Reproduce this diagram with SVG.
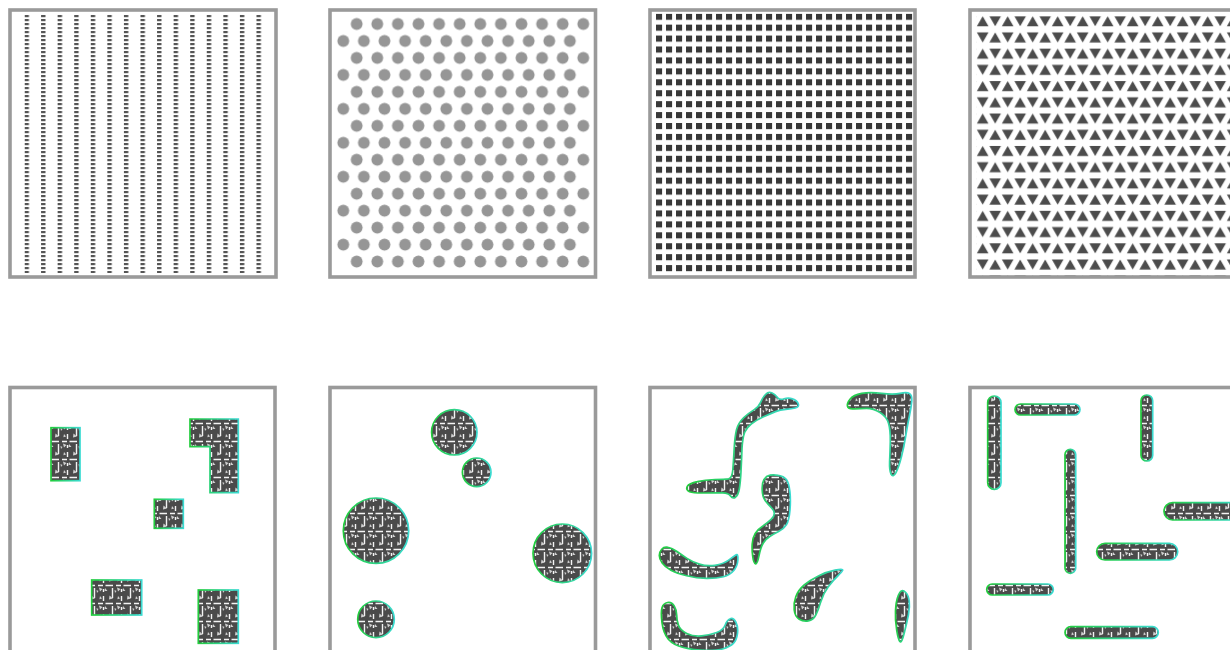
<svg xmlns="http://www.w3.org/2000/svg" width="1230" height="650" viewBox="0 0 1230 650">
<style>
.frame{fill:#fff;stroke:#9a9a9a;stroke-width:3.6}
.blob{fill:url(#tex);stroke:url(#edge);stroke-width:1.7}
</style>
<defs>
<pattern id="dots" patternUnits="userSpaceOnUse" x="24.5" y="15" width="16.57" height="4"><rect width="4.4" height="2.2" fill="#555"/></pattern>
<pattern id="circ" patternUnits="userSpaceOnUse" x="346.4" y="15.5" width="20.6" height="33.94"><circle cx="10.3" cy="8.5" r="5.9" fill="#969696"/></pattern>
<pattern id="circ2" patternUnits="userSpaceOnUse" x="333" y="32.5" width="20.6" height="33.94"><circle cx="10.3" cy="8.5" r="5.9" fill="#969696"/></pattern>
<pattern id="sq" patternUnits="userSpaceOnUse" x="656" y="13.7" width="10" height="10.93"><rect width="6.1" height="6.1" fill="#383838"/></pattern>
<pattern id="tri" patternUnits="userSpaceOnUse" x="976.2" y="16.2" width="25" height="32.44"><path d="M6.5 0L12.3 10H0.7Z M13.2 0H24.8L19 10Z M0.7 16.3H12.3L6.5 26.3Z M19 16.3L24.8 26.3H13.2Z" fill="#4c4c4c"/></pattern>
<pattern id="tex" patternUnits="userSpaceOnUse" width="18" height="18"><rect width="18" height="18" fill="#4a4a4a"/><path d="M0 9.5H5M8 9.5H13M15.5 9.5H18M4.5 0V4M4.5 12V18M13.5 2V7M13.5 13V16" stroke="#f4f4f4" stroke-width="1.4"/><path d="M1.5 1.5l3.5 3-4 1z M9 11.5l3.5 1.5-2.5 2.5z M10 2l2 2.5-2.6 0.8z M15 12l2.5 3-3 0z M6.5 14l2 1-1.5 2z" fill="#d0d0d0"/></pattern>
<linearGradient id="edge" x1="0" y1="0" x2="1" y2="0"><stop offset="0" stop-color="#22cc3c"/><stop offset="1" stop-color="#3adbd2"/></linearGradient>
</defs>

<g id="panel-lines">
<rect class="frame" x="10" y="10" width="266" height="267"/>
<rect x="24.5" y="15" width="238" height="258" fill="url(#dots)"/>
</g>
<g id="panel-circles">
<rect class="frame" x="330" y="10" width="265.5" height="267"/>
<rect x="346.4" y="15.5" width="247.2" height="271.5" fill="url(#circ)"/>
<rect x="333" y="32.5" width="247.2" height="237.6" fill="url(#circ2)"/>
</g>
<g id="panel-squares">
<rect class="frame" x="650" y="10" width="265" height="267"/>
<rect x="656" y="13.7" width="260" height="262.3" fill="url(#sq)"/>
</g>
<g id="panel-triangles">
<rect class="frame" x="970" y="10" width="265.5" height="267"/>
<rect x="976.2" y="16.2" width="256" height="259.5" fill="url(#tri)"/>
</g>

<g id="panel-rects">
<rect class="frame" x="10" y="387.5" width="265" height="267"/>
<rect class="blob" x="51" y="427.7" width="29" height="53"/>
<path class="blob" d="M190,419 H238.3 V492.7 H210 V446.7 H190 Z"/>
<rect class="blob" x="154.3" y="499.3" width="29" height="29"/>
<rect class="blob" x="91.7" y="580" width="50" height="35"/>
<rect class="blob" x="198.3" y="590" width="40" height="53.3"/>
</g>
<g id="panel-discs">
<rect class="frame" x="330" y="387.5" width="265.5" height="267"/>
<circle class="blob" cx="454.3" cy="432.3" r="22.7"/>
<circle class="blob" cx="476.7" cy="472.3" r="14.3"/>
<circle class="blob" cx="376" cy="530.7" r="32.7"/>
<circle class="blob" cx="562.3" cy="553.3" r="29.3"/>
<circle class="blob" cx="376" cy="619.3" r="18.3"/>
</g>
<g id="panel-blobs">
<rect class="frame" x="650" y="387.5" width="265" height="267"/>
<path class="blob" d="M765.5,394.5 Q768.3,391.5 771.7,392.8 Q775,394 777.5,397.6 Q780,400.5 784.2,398.8 Q788.3,397.2 792.5,398.9 Q797.2,400.6 798.3,403.9 Q799.3,407 795.3,408 Q791.7,409 785.9,409.4 Q780,409.8 775.5,411.6 Q771,413.5 763.5,416.8 Q756.5,420 751.5,423.8 Q746.7,427.5 744.6,432.5 Q742.6,438 742,448.5 Q741.6,460 741,471.5 Q740.4,483 739.3,489 Q738.2,495 735.5,497.2 Q732.7,499 730.5,496 Q728.4,493 722.9,492.9 Q716.7,492.8 705,493 Q693.3,493.2 689.5,491.7 Q685.5,489.8 687.3,486.4 Q689,483.3 697.3,481.6 Q705,479.8 715,479.5 Q724.6,479.3 728.6,478.8 Q732,478.2 732.8,470 Q733.6,460 734.2,448.5 Q734.8,437 736.5,429.8 Q738.3,423 743.8,417.7 Q749.3,412.6 754.2,409.6 Q758.8,406.8 760.6,402.4 Q762.5,397.6 765.5,394.5 Z"/>
<path class="blob" d="M850,399.2 Q853.3,395 861.7,393.4 Q870,391.7 881.7,393.4 Q893.3,395 900,393.4 Q906.7,391.7 909.4,393.4 Q912.2,395 911.8,401 Q911.3,407 909.6,415 Q907.8,423.3 905.9,435 Q904,446.7 901.5,456.5 Q899,466.5 896,472.5 Q893,478 891,474 Q889.3,470 889.6,461.7 Q890,453.3 890.3,441.7 Q890.5,430 888.6,423.4 Q886.7,416.7 880,412.5 Q873.3,408.3 866.7,408.3 Q860,408.3 854.2,408.8 Q848.3,409.3 847.5,406.3 Q846.7,403.3 850,399.2 Z"/>
<path class="blob" d="M778.3,475.4 Q783.8,476.3 786.4,479.6 Q789,483.3 789.9,491.7 Q790.8,500 790,510 Q789.1,520.5 786.4,524.8 Q783.7,529 778.6,531.6 Q773.8,534 769.8,536.5 Q765.7,539 763.3,543 Q760.8,547.2 759.1,555.2 Q757.4,564 755.6,563.8 Q753.6,563.5 752.7,556.2 Q751.8,550 752.2,544 Q752.6,537.8 755.2,533.5 Q757.8,529.3 762.9,526 Q767.8,522.6 771.1,519.4 Q774.3,516.3 774.3,513.4 Q774.3,510.5 771.1,507.3 Q767.7,504 765.1,500.5 Q762.5,497 762.2,490 Q761.9,483 764,479.5 Q766.3,476 770,475.2 Q773.3,474.4 778.3,475.4 Z"/>
<path class="blob" d="M661.7,549.3 Q664,546.5 668,547.3 Q672,548 677,551.5 Q682,555 687,558.4 Q692,561.7 699.4,564.1 Q706.7,566.5 715,565.3 Q723.3,564 728.3,560.4 Q733.3,556.7 735.8,555 Q738.3,553.3 737.9,559.7 Q737.5,566 733.8,570.5 Q730,575 723.4,576.8 Q716.7,578.5 706.7,578.4 Q696.7,578.3 686.7,575.8 Q676.7,573.3 670.9,570.2 Q665,567 662.2,563 Q659.3,559 659.3,555.5 Q659.3,552 661.7,549.3 Z"/>
<path class="blob" d="M662,607.7 Q663.3,603.3 667.5,602.5 Q671.7,601.7 674.2,605.9 Q676.7,610 676.7,615 Q676.7,620 678.4,625 Q680,630 686.7,633.4 Q693.3,636.7 701.7,635.9 Q710,635 716.7,632.5 Q723.3,630 725.2,625 Q727,620 730.2,618.7 Q733.3,617.3 735.8,622 Q738.3,626.7 737.5,633.4 Q736.7,640 733.4,643.4 Q730,646.7 723.4,648.7 Q716.7,650.7 705,650.4 Q693.3,650 683.3,647.5 Q673.3,645 668.3,639.2 Q663.3,633.3 662,622.7 Q660.7,612 662,607.7 Z"/>
<path class="blob" d="M835,570.1 Q826.7,571.7 818.4,575.9 Q810,580 804.2,585 Q798.3,590 795.8,596.7 Q793.3,603.3 794.2,610 Q795,616.7 799.2,619.2 Q803.3,621.7 808.3,620.9 Q813.3,620 815.8,615 Q818.3,610 820.8,601.7 Q823.3,593.3 828.3,586.7 Q833.3,580 837.7,576 Q842,572 842.7,570.3 Q843.3,568.5 835,570.1 Z"/>
<path class="blob" d="M905.8,592.5 Q908.3,595 909.2,600.9 Q910,606.7 908.4,615 Q906.7,623.3 904.2,633.3 Q901.7,643.3 900,641.7 Q898.3,640 896.7,630 Q895,620 895.5,610.9 Q896,601.7 897.8,596.9 Q899.5,592 901.4,591 Q903.3,590 905.8,592.5 Z"/>
</g>
<g id="panel-capsules">
<rect class="frame" x="970" y="387.5" width="265.5" height="267"/>
<rect class="blob" x="987.7" y="396" width="13.3" height="93.3" rx="6.6"/>
<rect class="blob" x="1015" y="404" width="65" height="11" rx="5.5"/>
<rect class="blob" x="1141" y="395" width="11.7" height="66" rx="5.8"/>
<rect class="blob" x="1065" y="449.3" width="10.7" height="124" rx="5.3"/>
<rect class="blob" x="1164" y="502.7" width="80" height="17.3" rx="8.6"/>
<rect class="blob" x="1096.7" y="543.3" width="81" height="16.7" rx="8.3"/>
<rect class="blob" x="986.7" y="584" width="66.6" height="11" rx="5.5"/>
<rect class="blob" x="1065" y="626.7" width="93.3" height="11.6" rx="5.8"/>
</g>
</svg>
